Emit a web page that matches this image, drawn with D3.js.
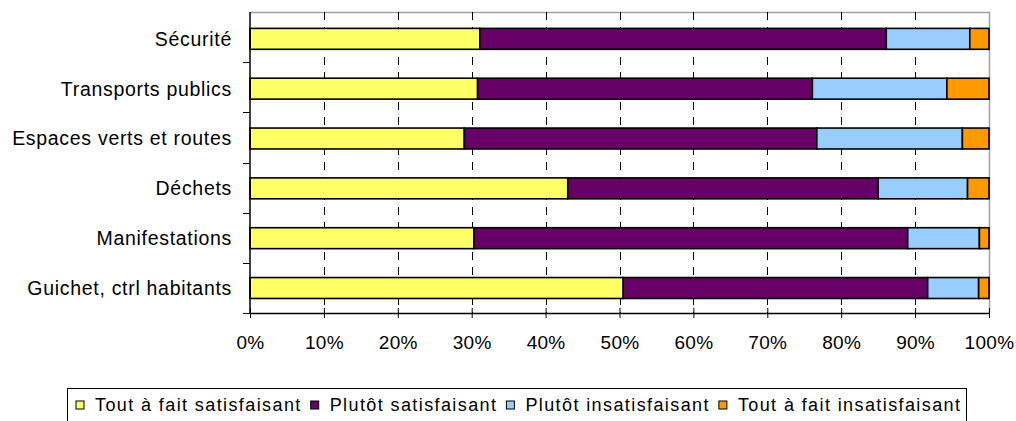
<!DOCTYPE html>
<html>
<head>
<meta charset="utf-8">
<script src="https://cdn.jsdelivr.net/npm/d3@7"></script>
<style>
  body { margin: 0; background: #fff; }
  svg { display: block; font-family: "Liberation Sans", Arial, sans-serif; }
</style>
</head>
<body>
<svg id="chart" width="1016" height="421"></svg>
<script>
var categories = ['Sécurité', 'Transports publics', 'Espaces verts et routes', 'Déchets', 'Manifestations', 'Guichet, ctrl habitants'];
var seriesNames = ['Tout à fait satisfaisant', 'Plutôt satisfaisant', 'Plutôt insatisfaisant', 'Tout à fait insatisfaisant'];
var toutSatisf = [31.1, 30.8, 29.0, 43.0, 30.3, 50.5];
var plutotSatisf = [55.0, 45.3, 47.7, 42.0, 58.7, 41.2];
var plutotInsatisf = [11.3, 18.2, 19.7, 12.1, 9.7, 6.9];
var toutInsatisf = [2.6, 5.7, 3.6, 2.9, 1.3, 1.4];
var tickLabels = ['0%', '10%', '20%', '30%', '40%', '50%', '60%', '70%', '80%', '90%', '100%'];
var colors = ['#FFFF66', '#660066', '#99CCFF', '#FF9900'];

(function () {
  'use strict';

  var svg = d3.select('#chart');
  var plotL = 250, plotR = 989, plotT = 12, plotB = 313;

  var rows = categories.map(function (c, i) {
    var r = { cat: c };
    r[seriesNames[0]] = toutSatisf[i];
    r[seriesNames[1]] = plutotSatisf[i];
    r[seriesNames[2]] = plutotInsatisf[i];
    r[seriesNames[3]] = toutInsatisf[i];
    return r;
  });
  var stacked = d3.stack().keys(seriesNames).offset(d3.stackOffsetExpand)(rows);

  var x = d3.scaleLinear().domain([0, 1]).range([plotL, plotR]);
  var y = d3.scaleBand().domain(categories).range([plotT, plotB])
    .paddingInner(0.58).paddingOuter(0.31).align(0.53);

  // plot border (grey top / right)
  svg.append('path')
    .attr('d', 'M' + plotL + ',' + (plotT + 0.5) + 'H' + (plotR + 0.5) + 'V' + plotB)
    .attr('fill', 'none').attr('stroke', '#a0a0a0').attr('stroke-width', 1.5);

  // dashed gridlines
  svg.append('g').selectAll('line')
    .data(d3.range(1, 10).map(function (d) { return d / 10; }))
    .enter().append('line')
    .attr('x1', function (d) { return Math.round(x(d)) + 0.5; })
    .attr('x2', function (d) { return Math.round(x(d)) + 0.5; })
    .attr('y1', plotT).attr('y2', plotB)
    .attr('stroke', '#000').attr('stroke-width', 1)
    .attr('stroke-dasharray', '8,7');

  // bars
  svg.append('g').selectAll('g')
    .data(stacked).enter().append('g')
    .attr('fill', function (d, i) { return colors[i]; })
    .selectAll('rect')
    .data(function (d) { return d; })
    .enter().append('rect')
    .attr('x', function (d) { return x(d[0]); })
    .attr('width', function (d) { return x(d[1]) - x(d[0]); })
    .attr('y', function (d) { return y(d.data.cat); })
    .attr('height', y.bandwidth())
    .attr('stroke', '#000').attr('stroke-width', 1.6);

  // left axis
  var step = (plotB - plotT) / categories.length;
  var bounds = d3.range(1, categories.length + 1).map(function (i) { return plotT + i * step; });
  svg.append('line').attr('x1', plotL).attr('x2', plotL).attr('y1', plotT).attr('y2', plotB)
    .attr('stroke', '#000').attr('stroke-width', 1.5);
  svg.append('g').selectAll('line').data(bounds).enter().append('line')
    .attr('x1', plotL - 7).attr('x2', plotL)
    .attr('y1', function (d) { return Math.round(d) + 0.5; })
    .attr('y2', function (d) { return Math.round(d) + 0.5; })
    .attr('stroke', '#000').attr('stroke-width', 1);
  svg.append('g').selectAll('text').data(categories).enter().append('text')
    .attr('x', 232)
    .attr('y', function (c) { return y(c) + y.bandwidth() / 2; })
    .attr('dy', '0.35em')
    .attr('text-anchor', 'end')
    .attr('font-size', '19.5px')
    .attr('letter-spacing', '0.7px')
    .attr('fill', '#000')
    .text(function (c) { return c; });

  // bottom axis
  var xAxis = d3.axisBottom(x)
    .tickValues(d3.range(0, 11).map(function (d) { return d / 10; }))
    .tickFormat(function (d, i) { return tickLabels[i]; })
    .tickSizeInner(5).tickSizeOuter(0).tickPadding(18);
  var gx = svg.append('g').attr('transform', 'translate(0,' + plotB + ')').call(xAxis);
  gx.select('.domain').attr('stroke', '#000').attr('stroke-width', 1.5);
  gx.selectAll('.tick line').attr('y1', -5).attr('stroke', '#000');
  gx.selectAll('.tick text')
    .attr('font-family', '"Liberation Sans", Arial, sans-serif')
    .attr('font-size', '19px')
    .attr('letter-spacing', '0.3px')
    .attr('fill', '#000');

  // legend
  var legend = svg.append('g');
  legend.append('rect')
    .attr('x', 67.5).attr('y', 388.5).attr('width', 899).attr('height', 40)
    .attr('fill', '#fff').attr('stroke', '#000').attr('stroke-width', 1);
  var lx = 76;
  seriesNames.forEach(function (name, i) {
    legend.append('rect')
      .attr('x', lx).attr('y', 401).attr('width', 8).attr('height', 8)
      .attr('fill', colors[i]).attr('stroke', '#000').attr('stroke-width', 1);
    var t = legend.append('text')
      .attr('x', lx + 19).attr('y', 405).attr('dy', '0.35em')
      .attr('font-size', '18px').attr('letter-spacing', '1.4px')
      .attr('fill', '#000')
      .text(name);
    lx += 19 + t.node().getComputedTextLength() + 9;
  });
})();
</script>
</body>
</html>
